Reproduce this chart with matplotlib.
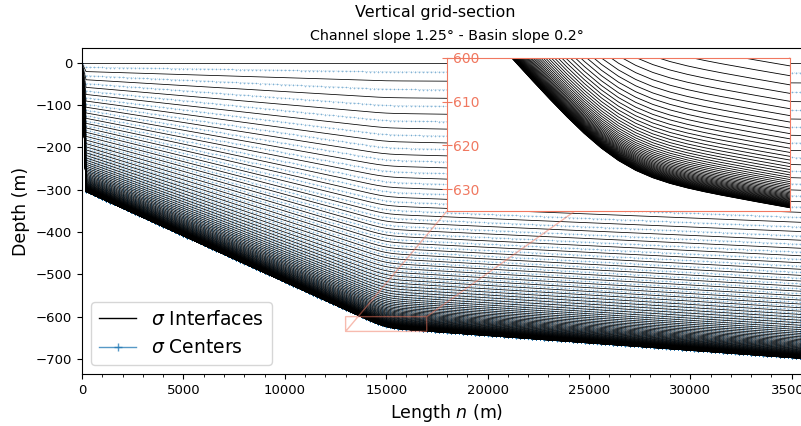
import numpy as np
import matplotlib
matplotlib.use("Agg")
import matplotlib.pyplot as plt
from matplotlib.lines import Line2D
from matplotlib.ticker import AutoMinorLocator

# Bathymetry parameters
channel_slope_deg = 1.25
basin_slope_deg = 0.2
shelf_depth = 300.0        # depth at the head of the channel (m)
coast_depth = 0.0          # closed boundary cell at n = 0
slope_break = 15000.0      # along-channel position of the slope break (m)
break_width = 300.0        # smoothing length of the break (m)
domain_length = 36000.0    # m
dx = 200.0                 # m

# Vertical sigma grid
n_layers = 100
stretch_ratio = 0.932      # thickness ratio of successive layers (surface -> bottom)

# Zoom window
zoom_x = [13000, 17000]
zoom_z = [-635, -600]
zoom_ticks = [-600, -610, -620, -630]
zoom_labels = ["600", "610", "620", "630"]

# ---- grid construction ----
x = np.arange(0.0, domain_length + dx / 2, dx)
s1 = np.tan(np.deg2rad(channel_slope_deg))
s2 = np.tan(np.deg2rad(basin_slope_deg))
h = shelf_depth + s1 * x - (s1 - s2) * break_width * np.logaddexp(0.0, (x - slope_break) / break_width)
h[0] = coast_depth

dsig = stretch_ratio ** np.arange(n_layers)
sig_w = np.concatenate([[0.0], np.cumsum(dsig) / dsig.sum()])
sig_c = 0.5 * (sig_w[:-1] + sig_w[1:])

z_w = -np.outer(sig_w, h)
z_c = -np.outer(sig_c, h)

# ---- figure ----
W, H = 801, 426
fig = plt.figure(figsize=(W / 100, H / 100), dpi=100)
ax = fig.add_axes([82 / W, 1 - 374 / H, 730 / W, 326 / H])

zoom_color = "#f07860"

ax.plot(x, z_c.T, "+:", color="C0", lw=0.5, ms=2.0, mew=0.4, alpha=0.5)
ax.plot(x, z_w.T, color="k", lw=0.55)

ax.set_xlim(0, domain_length)
ax.margins(y=0.05)
ax.xaxis.set_minor_locator(AutoMinorLocator())
ax.tick_params(labelsize=9.5)
ax.set_xlabel("Length $n$ (m)", fontsize=12.5)
ax.set_ylabel("Depth (m)", fontsize=12.5)
ax.set_title(f"Channel slope {channel_slope_deg}\u00b0 - Basin slope {basin_slope_deg}\u00b0", fontsize=10.3)
fig.text(435 / W, 1 - 13 / H, "Vertical grid-section", ha="center", va="center", fontsize=11.5)

handles = [
    Line2D([], [], color="k", lw=1.0),
    Line2D([], [], color="C0", lw=1.0, marker="+", ms=6, mew=1.0, alpha=0.75),
]
ax.legend(handles, [r"$\sigma$ Interfaces", r"$\sigma$ Centers"], loc="lower left", fontsize=13.5)

# ---- zoom inset ----
axins = ax.inset_axes([0.5, 0.5, 0.47, 0.47])
axins.plot(x, z_w.T, color="k", lw=0.6)
axins.set_xlim(*zoom_x)
axins.set_ylim(*zoom_z)
axins.set_xticks([])
axins.set_yticks(zoom_ticks)
axins.set_yticklabels(zoom_labels)
axins.tick_params(axis="y", direction="inout", length=7, color=zoom_color,
                  labelcolor=zoom_color, labelsize=10, pad=-8)
for lab in axins.get_yticklabels():
    lab.set_horizontalalignment("left")
for sp in axins.spines.values():
    sp.set_edgecolor(zoom_color)
ax.indicate_inset_zoom(axins, edgecolor=zoom_color)

fig.savefig("out.png", dpi=100)
